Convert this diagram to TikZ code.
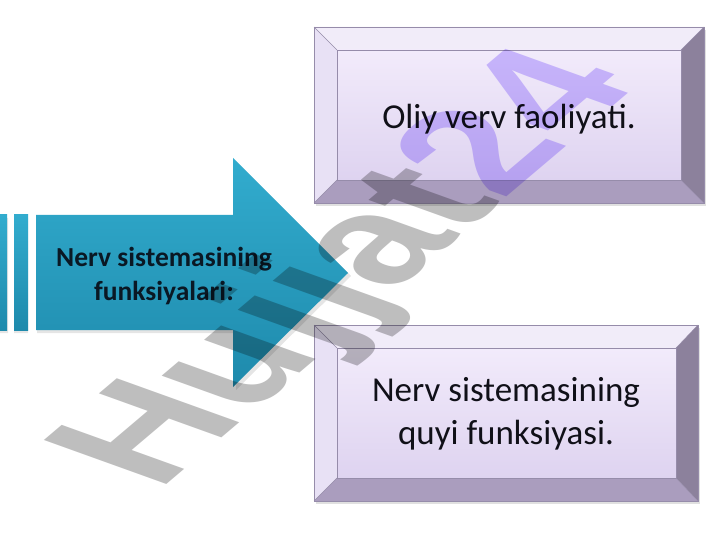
\documentclass[tikz,border=0pt]{standalone}
\usepackage{fontspec}
\setmainfont{Carlito}
\newfontfamily\wmfont{Liberation Sans}
\usetikzlibrary{shadings}
\definecolor{arrtop}{RGB}{50,172,206}
\definecolor{arrbot}{RGB}{30,138,172}
\definecolor{facetop}{RGB}{242,235,251}
\definecolor{facebot}{RGB}{222,211,240}
\definecolor{bevtop}{RGB}{241,236,249}
\definecolor{bevleft}{RGB}{232,225,245}
\definecolor{bevright}{RGB}{140,129,156}
\definecolor{bevbot}{RGB}{170,157,190}
\definecolor{bevline}{RGB}{150,140,170}
\definecolor{wmgray}{RGB}{190,190,190}
\definecolor{wmpurple}{RGB}{210,196,255}
\definecolor{txt}{RGB}{16,16,24}
\definecolor{arrtxt}{RGB}{10,24,36}
\tikzset{
  facebox/.style={inner sep=0pt, text=txt, font=\fontsize{35}{43}\selectfont, align=center},
  arrowlabel/.style={inner sep=0pt, text=arrtxt, font=\bfseries\fontsize{27.5}{34}\selectfont, align=center},
  bevedge/.style={draw=bevline, line width=0.6pt},
  wmtext/.style={inner sep=0pt, font=\wmfont\bfseries\fontsize{10}{12}\selectfont, text=wmgray}
}
\newcommand{\mybevel}[8]{%
  \fill[black, opacity=0.12] (#1+2,#2+3) rectangle (#3+2,#4+3);
  \fill[bevtop] (#1,#2) -- (#3,#2) -- (#7,#6) -- (#5,#6) -- cycle;
  \fill[bevleft] (#1,#2) -- (#5,#6) -- (#5,#8) -- (#1,#4) -- cycle;
  \fill[bevright] (#3,#2) -- (#3,#4) -- (#7,#8) -- (#7,#6) -- cycle;
  \fill[bevbot] (#1,#4) -- (#3,#4) -- (#7,#8) -- (#5,#8) -- cycle;
  \shade[top color=facetop, bottom color=facebot] (#5,#6) rectangle (#7,#8);
  \draw[bevedge] (#1,#2) rectangle (#3,#4);
  \draw[bevedge] (#5,#6) rectangle (#7,#8);
  \draw[bevedge, line width=0.4pt] (#1,#2) -- (#5,#6) (#3,#2) -- (#7,#6) (#1,#4) -- (#5,#8) (#3,#4) -- (#7,#8);
}
\begin{document}
\begin{tikzpicture}[x=1pt,y=-1pt]
\useasboundingbox (0,0) rectangle (720,540);
\fill[white] (0,0) rectangle (720,540);
% arrow shadow
\fill[black, opacity=0.10] (0,218) rectangle (8,333) (14,218) rectangle (28,333)
  (37,218) -- (236,218) -- (236,161) -- (351,276) -- (236,390) -- (236,333) -- (37,333) -- cycle;
% stripes and arrow
\shade[top color=arrtop, bottom color=arrbot] (0,215) rectangle (7,330);
\shade[top color=arrtop, bottom color=arrbot] (14,215) rectangle (28,330);
\shade[top color=arrtop, bottom color=arrbot]
  (36,215) -- (233,215) -- (233,158) -- (348,273) -- (233,387) -- (233,330) -- (36,330) -- cycle;
\node[arrowlabel] (func) at (164,276) {Nerv sistemasining\\funksiyalari:};
% boxes
\mybevel{314}{27}{704}{203}{337}{50}{681}{180}
\node[facebox] (oliy) at (509,119) {Oliy verv faoliyati.};
\mybevel{314}{325}{698}{501}{337}{348}{676}{478}
\node[facebox] (quyi) at (506,414) {Nerv sistemasining\\quyi funksiyasi.};
% watermark
\begin{scope}[blend mode=multiply, cm={12.4,10.5,-17.8,6.4,(156,494)}]
  \node[wmtext, anchor=base west, transform shape] (wm) at (0,0) {Hujjat\textcolor{wmpurple}{24}};
\end{scope}
\end{tikzpicture}
\end{document}
